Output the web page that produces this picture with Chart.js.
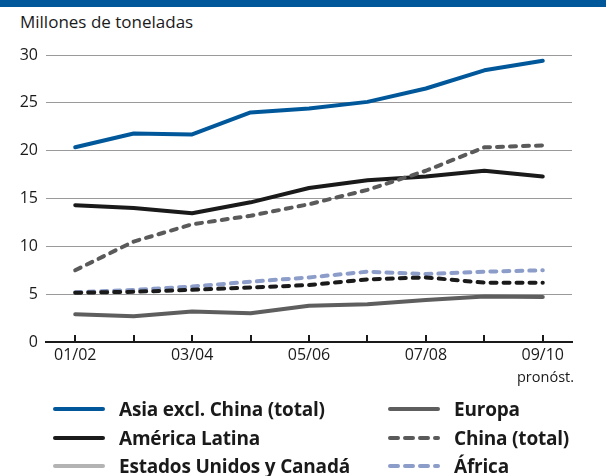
<!DOCTYPE html>
<html>
<head>
<meta charset="utf-8">
<script src="https://cdn.jsdelivr.net/npm/chart.js@4"></script>
<style>
  html, body { margin: 0; padding: 0; background: #fff; }
  #wrap { position: relative; width: 606px; height: 476px; overflow: hidden; font-family: "Open Sans", sans-serif; color: #1a1a1a; }
  #band { position: absolute; left: 0; top: 0; width: 606px; height: 7px; background: #00579a; }
  #title { position: absolute; left: 20px; top: 11px; font-size: 17px; line-height: 22px; }
  #note { position: absolute; left: 517px; top: 367px; font-size: 14.5px; line-height: 20px; }
  canvas { position: absolute; left: 0; top: 0; }
  .lg { position: absolute; display: flex; align-items: center; font-family: "Open Sans", sans-serif; font-weight: bold; font-size: 19px; line-height: 24px; white-space: nowrap; letter-spacing: -0.2px; }
  .lg svg { margin-right: 14px; }
</style>
</head>
<body>
<div id="wrap">
  <div id="band"></div>
  <div id="title">Millones de toneladas</div>
  <canvas id="c" width="606" height="476"></canvas>
  <div id="note">pronóst.</div>
  <div id="legend"></div>
</div>
<script>
// ---- Data ----
const seasons = ["01/02","02/03","03/04","04/05","05/06","06/07","07/08","08/09","09/10"];
const yTicks = [0, 5, 10, 15, 20, 25, 30];
const asiaExclChina = [20.35, 21.8, 21.7, 24.0, 24.4, 25.1, 26.5, 28.4, 29.4];
const americaLatina = [14.3, 14.0, 13.45, 14.6, 16.1, 16.9, 17.3, 17.9, 17.3];
const eeuuCanada = [null, null, null, null, null, null, null, null, null];
const europa = [2.9, 2.7, 3.2, 3.0, 3.8, 3.95, 4.4, 4.75, 4.7];
const chinaTotal = [7.5, 10.5, 12.3, 13.2, 14.4, 15.9, 17.9, 20.35, 20.55];
const africa = [5.2, 5.45, 5.8, 6.3, 6.75, 7.35, 7.1, 7.35, 7.5];
const otraSerie = [5.15, 5.25, 5.45, 5.7, 5.95, 6.55, 6.75, 6.2, 6.2];

const DASH = [6, 7];
const series = [
  { label: "Europa", data: europa, color: "#5e5e5e", dash: [], legend: [1, 0] },
  { label: "", data: otraSerie, color: "#1a1a1a", dash: DASH, legend: null },
  { label: "África", data: africa, color: "#8d9dca", dash: DASH, legend: [1, 2] },
  { label: "Estados Unidos y Canadá", data: eeuuCanada, color: "#b3b3b3", dash: [], legend: [0, 2] },
  { label: "China (total)", data: chinaTotal, color: "#5a5a5a", dash: DASH, legend: [1, 1] },
  { label: "América Latina", data: americaLatina, color: "#1a1a1a", dash: [], legend: [0, 1] },
  { label: "Asia excl. China (total)", data: asiaExclChina, color: "#00589b", dash: [], legend: [0, 0] }
];

// ---- Tick marks pointing up from the axis ----
const innerTicks = {
  id: 'innerTicks',
  afterDatasetsDraw(chart) {
    const xs = chart.scales.x, ctx = chart.ctx, bottom = chart.chartArea.bottom;
    ctx.save();
    ctx.strokeStyle = '#1a1a1a';
    ctx.lineWidth = 2;
    xs.ticks.forEach((t, i) => {
      const px = Math.round(xs.getPixelForTick(i));
      ctx.beginPath();
      ctx.moveTo(px, bottom - 7);
      ctx.lineTo(px, bottom);
      ctx.stroke();
    });
    ctx.restore();
  }
};

const chart = new Chart(document.getElementById('c'), {
  type: 'line',
  data: {
    labels: seasons,
    datasets: series.map(s => ({
      label: s.label,
      data: s.data,
      borderColor: s.color,
      backgroundColor: s.color,
      borderWidth: 4,
      borderDash: s.dash,
      borderCapStyle: 'round',
      borderJoinStyle: 'round',
      pointRadius: 0,
      tension: 0,
      fill: false,
      spanGaps: false
    }))
  },
  options: {
    responsive: false,
    animation: false,
    layout: { padding: { left: 0, right: 34, top: 55, bottom: 0 } },
    plugins: { legend: { display: false }, tooltip: { enabled: false } },
    scales: {
      x: {
        offset: true,
        grid: { display: true, drawOnChartArea: false, drawTicks: false, offset: false },
        border: { display: true, color: '#1a1a1a', width: 2 },
        ticks: {
          autoSkip: false, maxRotation: 0, padding: 4,
          color: '#1a1a1a', font: { family: 'Open Sans', size: 16 },
          callback: (v, i) => (i % 2 === 0 ? seasons[i] : '')
        },
        afterFit: (s) => { s.height = 476 - 342; }
      },
      y: {
        min: 0, max: 30,
        afterBuildTicks: (s) => { s.ticks = yTicks.map(v => ({ value: v })); },
        grid: { color: '#9a9a9a', lineWidth: 1, drawTicks: false },
        border: { display: false },
        ticks: { padding: 8, color: '#1a1a1a', font: { family: 'Open Sans', size: 16 } },
        afterFit: (s) => { s.width = 46; }
      }
    }
  },
  plugins: [innerTicks]
});

// ---- HTML legend built from the datasets ----
const colX = [53, 388];
const rowY = [409, 438, 466];
const lg = document.getElementById('legend');
series.filter(s => s.legend).forEach(s => {
  const [c, r] = s.legend;
  const d = document.createElement('div');
  d.className = 'lg';
  d.style.left = colX[c] + 'px';
  d.style.top = (rowY[r] - 12) + 'px';
  const dash = s.dash.length ? 'stroke-dasharray="8 7"' : '';
  d.innerHTML = '<svg width="52" height="8"><line x1="2" y1="4" x2="50" y2="4" stroke="' + s.color +
    '" stroke-width="4" stroke-linecap="round" ' + dash + '/></svg>';
  const span = document.createElement('span');
  span.textContent = s.label;
  d.appendChild(span);
  lg.appendChild(d);
});
</script>
</body>
</html>
